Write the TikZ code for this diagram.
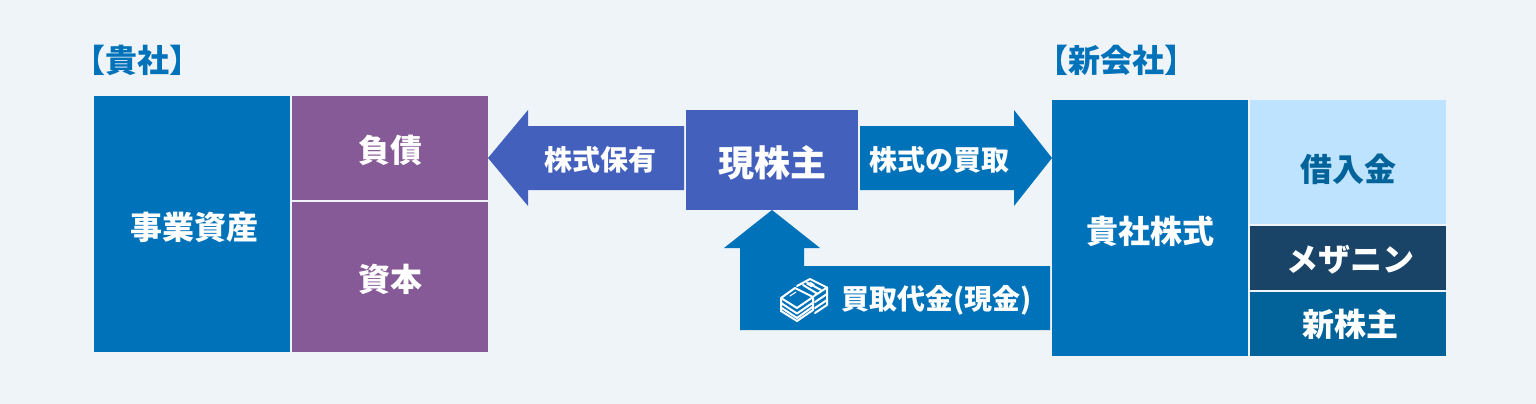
\documentclass[tikz,border=0pt]{standalone}
\usepackage{fontspec}
\setmainfont{Noto Sans CJK JP}
\definecolor{bgc}{HTML}{EFF4F9}
\definecolor{bluec}{HTML}{0072BA}
\definecolor{purplec}{HTML}{865A96}
\definecolor{indigoc}{HTML}{4361BC}
\definecolor{lightc}{HTML}{BDE3FE}
\definecolor{darkc}{HTML}{1A4368}
\definecolor{tealc}{HTML}{02629A}
\tikzset{
  block/.style={inner sep=0pt,outer sep=0pt,anchor=center,font=\bfseries\fontsize{32}{32}\selectfont,text=white,align=center},
  lab/.style={inner sep=0pt,font=\bfseries\fontsize{28}{28}\selectfont,text=white},
  head/.style={inner sep=0pt,font=\bfseries\fontsize{32}{32}\selectfont,text=bluec},
  money/.style={draw=white,line width=2pt,line join=round,line cap=round}
}
\begin{document}
\begin{tikzpicture}[x=1pt,y=-1pt]
\useasboundingbox (0,0) rectangle (1536,404);
\fill[bgc] (0,0) rectangle (1536,404);
% block arrows
\fill[indigoc] (488,158) -- (528,110) -- (528,126) -- (684,126) -- (684,190) -- (528,190) -- (528,206) -- cycle;
\fill[bluec] (1052,158) -- (1014,110) -- (1014,126) -- (860,126) -- (860,190) -- (1014,190) -- (1014,206) -- cycle;
\fill[bluec] (772,210) -- (820,248) -- (804,248) -- (804,266) -- (1050,266) -- (1050,330) -- (740,330) -- (740,248) -- (724,248) -- cycle;
% blocks
\fill[bluec] (94,96) rectangle (290,352);
\node[block] (a1) at (194,227) {事業資産};
\fill[purplec] (292,96) rectangle (488,200);
\node[block] (a2) at (390,150) {負債};
\fill[purplec] (292,202) rectangle (488,352);
\node[block] (a3) at (390,279) {資本};
\fill[bluec] (1052,100) rectangle (1248,356);
\node[block] (b1) at (1150,231) {貴社株式};
\fill[lightc] (1250,100) rectangle (1446,224);
\node[block,text=tealc] (b2) at (1348,169.5) {借入金};
\fill[darkc] (1250,226) rectangle (1446,290);
\node[block] (b3) at (1350,260) {メザニン};
\fill[tealc] (1250,292) rectangle (1446,356);
\node[block] (b4) at (1350,324.5) {新株主};
\fill[indigoc] (686,110) rectangle (858,210);
\node[block,font=\bfseries\fontsize{36}{36}\selectfont] (c) at (772,163) {現株主};
% labels
\node[lab] (l1) at (600,160) {株式保有};
\node[lab] (l2) at (939,160) {株式の買取};
\node[lab,anchor=west] (l3) at (841.5,300) {買取代金(現金)};
\node[head] (h1) at (137.5,60) {【貴社】};
\node[head] (h2) at (1116,60) {【新会社】};
% money icon
\begin{scope}[money]
\draw (797,286) -- (810,279) -- (827,287.5) -- (814,296);
\draw (827,287.5) -- (827,305) -- (815,313);
\draw (827,294) -- (815,302) (827,300) -- (815,308);
\draw (803,285) -- (817,293.5) (807,282.5) -- (821,290);
\fill[white] (806,284) -- (811,282) -- (815,285) -- (811,287) -- cycle;
\draw (781,298) -- (795,288) -- (813,297) -- (797,308) -- cycle;
\draw (781,298) -- (781,311) -- (797,321) -- (813,310) -- (813,297);
\draw (781,303) -- (797,313.5) -- (813,302.5);
\draw (781,307.5) -- (797,318) -- (813,306.5);
\draw[line width=1pt] (790,296) -- (796,292);
\end{scope}
\end{tikzpicture}
\end{document}
